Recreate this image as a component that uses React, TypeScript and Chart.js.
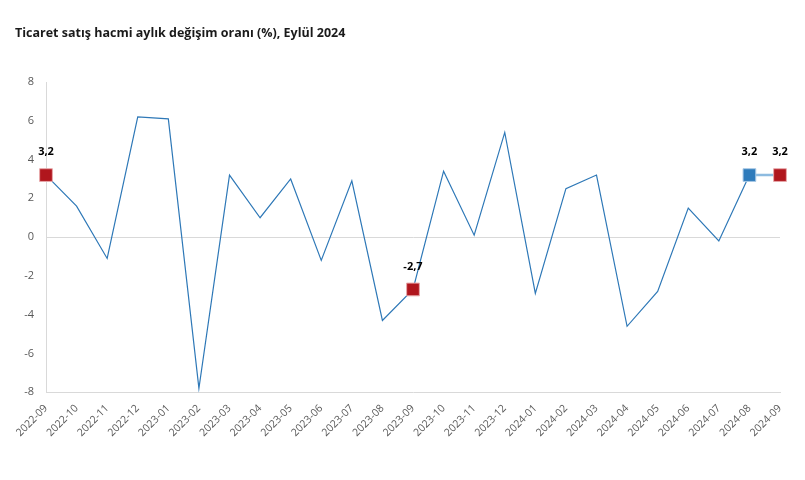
import React, { useEffect, useRef } from "react";
import { Chart, registerables } from "chart.js";

Chart.register(...registerables);

const categories = [
  "2022-09", "2022-10", "2022-11", "2022-12", "2023-01", "2023-02", "2023-03",
  "2023-04", "2023-05", "2023-06", "2023-07", "2023-08", "2023-09", "2023-10",
  "2023-11", "2023-12", "2024-01", "2024-02", "2024-03", "2024-04", "2024-05",
  "2024-06", "2024-07", "2024-08", "2024-09",
];

const values = [
  3.2, 1.6, -1.1, 6.2, 6.1, -7.8, 3.2, 1.0, 3.0, -1.2, 2.9, -4.3, -2.7, 3.4,
  0.1, 5.4, -2.9, 2.5, 3.2, -4.6, -2.8, 1.5, -0.2, 3.2, 3.2,
];

const redMarkers = ["2022-09", "2023-09", "2024-09"];
const blueMarkers = ["2024-08"];

const yTicks = [-8, -6, -4, -2, 0, 2, 4, 6, 8];

const TITLE = "Ticaret satış hacmi aylık değişim oranı (%), Eylül 2024";
const FONT = "'Open Sans', 'Noto Sans', 'DejaVu Sans', sans-serif";

const RED = "#b0161d";
const BLUE = "#2e7bbb";
const LINE = "#2e78b7";

export default function App() {
  const ref = useRef<HTMLCanvasElement | null>(null);

  useEffect(() => {
    if (!ref.current) return;
    const isRed = (i: number) => redMarkers.includes(categories[i]);
    const isBlue = (i: number) => blueMarkers.includes(categories[i]);
    const isMarked = (i: number) => isRed(i) || isBlue(i);

    const labelPlugin = {
      id: "pointLabels",
      afterDatasetsDraw(chart: any) {
        const meta = chart.getDatasetMeta(0);
        const ctx = chart.ctx;
        ctx.save();
        ctx.font = `bold 11px ${FONT}`;
        ctx.fillStyle = "#000000";
        ctx.textAlign = "center";
        ctx.textBaseline = "middle";
        meta.data.forEach((el: any, i: number) => {
          if (!isMarked(i)) return;
          const txt = values[i].toFixed(1).replace(".", ",");
          ctx.fillText(txt, el.x, el.y - 23);
        });
        ctx.restore();
      },
    };

    const chart = new Chart(ref.current, {
      type: "line",
      data: {
        labels: categories,
        datasets: [
          {
            data: values,
            borderColor: LINE,
            borderWidth: 1.2,
            tension: 0,
            pointStyle: "rect",
            pointRadius: (c: any) => (isMarked(c.dataIndex) ? 9 : 0),
            pointHoverRadius: (c: any) => (isMarked(c.dataIndex) ? 9 : 0),
            pointBackgroundColor: (c: any) => (isRed(c.dataIndex) ? RED : BLUE),
            pointBorderColor: (c: any) => (isRed(c.dataIndex) ? "#e8a9ab" : "#a9c9e6"),
            pointBorderWidth: 1,
            segment: {
              borderColor: (c: any) => (c.p0DataIndex === 23 ? "#8dbbe0" : LINE),
              borderWidth: (c: any) => (c.p0DataIndex === 23 ? 2.5 : 1.2),
            },
          } as any,
        ],
      },
      options: {
        responsive: false,
        animation: false,
        layout: { padding: { left: 15, right: 25, bottom: 39, top: 0 } },
        plugins: {
          legend: { display: false },
          tooltip: { enabled: false },
          title: {
            display: true,
            text: TITLE,
            align: "start",
            color: "#1a1a1a",
            font: { family: FONT, size: 12.5, weight: "bold" },
            padding: { top: 26, bottom: 41 },
          },
        },
        scales: {
          x: {
            offset: false,
            grid: { display: false },
            border: { display: true, color: "#d9d9d9" },
            ticks: {
              autoSkip: false,
              maxRotation: 45,
              minRotation: 45,
              color: "#595959",
              font: { family: FONT, size: 10.5 },
              padding: 2,
            },
          },
          y: {
            min: -8,
            max: 8,
            afterBuildTicks: (scale: any) => {
              scale.ticks = yTicks.map((v) => ({ value: v }));
            },
            afterFit: (scale: any) => {
              scale.width = 31;
            },
            grid: {
              color: (c: any) => (c.tick && c.tick.value === 0 ? "#d9d9d9" : "rgba(0,0,0,0)"),
              drawTicks: false,
            },
            border: { display: true, color: "#d9d9d9" },
            ticks: {
              color: "#595959",
              font: { family: FONT, size: 11 },
              padding: 12,
            },
          },
        },
      } as any,
      plugins: [labelPlugin],
    });
    return () => chart.destroy();
  }, []);

  return (
    <div style={{ position: "fixed", left: 0, top: 0, width: 805, height: 480, background: "#fff" }}>
      <canvas ref={ref} width={805} height={480} />
    </div>
  );
}
